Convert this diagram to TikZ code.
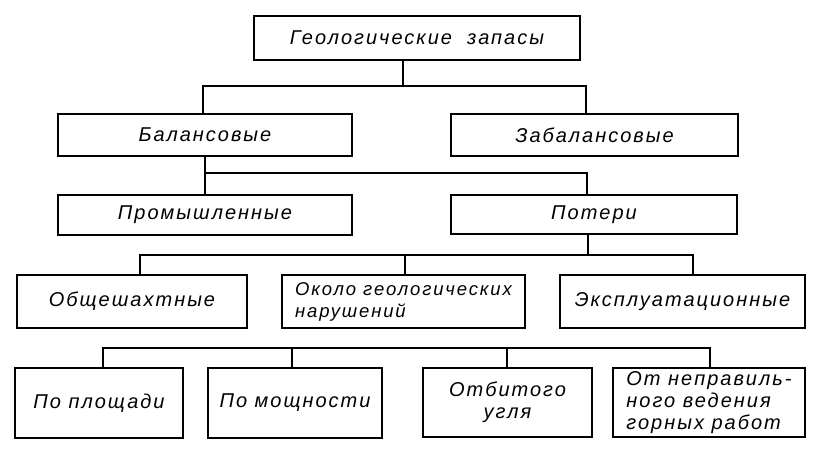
\documentclass[tikz,border=0pt]{standalone}
\usepackage{fontspec}
\setmainfont{Liberation Sans}
\newfontfamily\gost[LetterSpace=10]{Liberation Sans Italic}
\usetikzlibrary{calc}
\begin{document}
\begin{tikzpicture}[x=1pt,y=-1pt,
  box/.style={draw,line width=2.4pt,inner sep=0pt,font=\gost\fontsize{20}{22}\selectfont,align=center},
  boxl/.style={box,align=left},
  conn/.style={line width=1.8pt}]
\useasboundingbox (0,0) rectangle (816,450);
\fill[white] (0,0) rectangle (816,450);
% level 0
\node[box,minimum width=326,minimum height=44] (top) at (417,38) {Геологические\ \ запасы};
% level 1
\node[box,minimum width=294,minimum height=42] (bal) at (205,135) {Балансовые};
\node[box,minimum width=287,minimum height=42] (zab) at (594.5,135) {Забалансовые};
% level 2
\node[box,minimum width=294,minimum height=40] (prom) at (205,215) {Промышленные};
\node[box,minimum width=286,minimum height=39] (pot) at (594,214.5) {Потери};
% level 3
\node[box,minimum width=230,minimum height=53] (obsh) at (132,301.5) {Общешахтные};
\node[boxl,minimum width=243,minimum height=53,font=\gost\fontsize{18.5}{22}\selectfont] (okolo) at (403.5,301.5) {Около геологических\\нарушений};
\node[box,minimum width=245,minimum height=53] (expl) at (682.5,301.5) {Эксплуатационные};
% level 4
\node[box,minimum width=168,minimum height=70] (pl) at (99,403) {По площади};
\node[box,minimum width=174,minimum height=70] (mosh) at (295,403) {По мощности};
\node[box,minimum width=169,minimum height=69] (otb) at (507.5,402.5) {Отбитого\\угля};
\node[boxl,minimum width=192,minimum height=69] (otn) at (709,402.5) {От неправиль-\\ного ведения\\горных работ};
% connectors
\coordinate (j1) at (403,86);
\draw[conn] (top.south -| j1) -- (j1);
\draw[conn] (j1) -| ([xshift=-2]bal.north);
\draw[conn] (j1) -| ([xshift=-8.5]zab.north);
\coordinate (j2) at (205,173);
\draw[conn] (bal.south) -- (prom.north);
\draw[conn] (j2) -| ([xshift=-7]pot.north);
\coordinate (j3) at (588,255);
\draw[conn] ([xshift=-6]pot.south) -- (j3);
\draw[conn] (j3) -| ([xshift=8]obsh.north);
\draw[conn] (j3) -| ([xshift=1.5]okolo.north);
\draw[conn] (j3) -| ([xshift=10.5]expl.north);
\coordinate (j4) at (507,348);
\draw[conn] ([xshift=4]pl.north) |- (j4);
\draw[conn] ([xshift=-3]mosh.north) -- ([xshift=-3]mosh.north |- j4);
\draw[conn] ([xshift=-0.5]otb.north) -- (j4);
\draw[conn] (j4) -| ([xshift=1]otn.north);
\end{tikzpicture}
\end{document}
